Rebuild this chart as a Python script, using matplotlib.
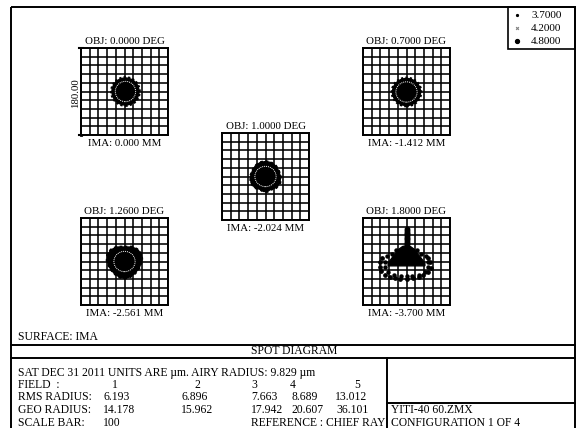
import matplotlib.pyplot as plt
import numpy as np
from matplotlib.patches import Ellipse, Polygon, Rectangle

W, H = 579, 428

fields = ['0.0000', '0.7000', '1.0000', '1.2600', '1.8000']
ima = ['0.000', '-1.412', '-2.024', '-2.561', '-3.700']
rms = ['6.193', '6.896', '7.663', '8.689', '13.012']
geo = ['14.178', '15.962', '17.942', '20.607', '36.101']
wavelengths = ['3.7000', '4.2000', '4.8000']
scale_bar = '180.00'

# spot shapes, in um (box spans +-90)
spot1_center, spot1_size = (2, 0), (56, 56)
spot2_center, spot2_size = (0, -1), (58, 56)
spot3_x = [0, 11, 21, 27, 31, 30, 22, 10, 4, -4, -10, -22, -30, -31, -27, -21, -11]
spot3_y = [31, 29, 22, 12, 0, -13, -23, -27, -31, -31, -27, -23, -13, 0, 12, 22, 29]
spot4_x = [0, 16, 28, 35, 36, 31, 22, 11, 0, -11, -22, -31, -36, -35, -28, -16]
spot4_y = [30, 30, 24, 14, 2, -12, -24, -32, -35, -32, -24, -12, 2, 14, 24, 30]
spot5_dome_x = [0, 8, 15, 21, 28, 34, 38, 38, -38, -38, -34, -28, -21, -15, -8]
spot5_dome_y = [33, 31, 26, 18, 10, 2, -4, -9, -9, -4, 2, 10, 18, 26, 31]
spot5_col_y = [67, 63, 60, 56, 53, 49, 46, 42, 39, 36]
spot5_ring_x = [-50, -54, -55, -52, -45, -35, -24, -14, 0, 13, 25, 35, 44, 50, 48, 44]
spot5_ring_y = [7, -1, -11, -20, -27, -32, -35, -37, -37, -35, -32, -27, -21, -13, -1, 7]
spot5_inner_x = [-40, -44, -44, -38, -26, -12, 0, 12, 26, 38, 44, 44, 40, -30, 30, -22, 22]
spot5_inner_y = [12, 0, -12, -22, -27, -29, -30, -29, -27, -22, -12, 0, 12, 16, 16, 24, 24]

serif = 'Liberation Serif'

fig = plt.figure(figsize=(W / 100, H / 100), dpi=100)
fax = fig.add_axes([0, 0, 1, 1])
fax.set_xlim(0, W)
fax.set_ylim(H, 0)
fax.axis('off')

# frame
fax.add_patch(Rectangle((11, 7), 564, 440, fill=False, lw=1.4, color='black'))
fax.plot([11, 575], [345, 345], color='black', lw=1.4)
fax.plot([11, 575], [358, 358], color='black', lw=1.4)
fax.plot([387, 387], [358, 430], color='black', lw=1.4)
fax.plot([387, 575], [403, 403], color='black', lw=1.4)
fax.add_patch(Rectangle((508, 7), 67, 42, fill=False, lw=1.2, color='black'))

# legend
leg_marks = [('.', 3, 'black'), ('x', 2, 'gray'), ('o', 3, 'black')]
for i, (wl, (m, ms, c)) in enumerate(zip(wavelengths, leg_marks)):
    y = 15 + i * 13
    fax.plot([517], [y], marker=m, ms=ms, color=c, mew=0.8)
    fax.text(531, y, wl, fontsize=8, family=serif, va='center')

boxes = [(81, 48), (363, 48), (222, 133), (81, 218), (363, 218)]
size = 87
ticks = np.arange(-90, 91, 18)


def spot_axes(left, top):
    ax = fig.add_axes([left / W, 1 - (top + size) / H, size / W, size / H])
    ax.set_xlim(-90, 90)
    ax.set_ylim(-90, 90)
    ax.set_xticks(ticks)
    ax.set_yticks(ticks)
    ax.grid(True, color='black', lw=1.15)
    ax.tick_params(length=0, labelbottom=False, labelleft=False)
    for s in ax.spines.values():
        s.set_linewidth(1.4)
    return ax


axes = []
for (left, top), f, im in zip(boxes, fields, ima):
    ax = spot_axes(left, top)
    axes.append(ax)
    fax.text(left + size / 2, top - 7, 'OBJ: %s DEG' % f, fontsize=7.8, family=serif,
             ha='center', va='center')
    fax.text(left + size / 2, top + size + 8, 'IMA: %s MM' % im, fontsize=7.8, family=serif,
             ha='center', va='center')

dotted = (0, (1, 1))


def round_spot(ax, center, sz):
    ax.add_patch(Ellipse(center, sz[0], sz[1], color='black', zorder=3))
    ax.add_patch(Ellipse(center, sz[0] + 3, sz[1] + 3, fill=False, ec='black', lw=1.6,
                         ls=dotted, zorder=3))
    ax.add_patch(Ellipse(center, sz[0] - 14, sz[1] - 14, fill=False, ec='white', lw=0.7,
                         ls=dotted, zorder=4))


def poly_spot(ax, xs, ys):
    pts = np.column_stack([xs, ys])
    ax.add_patch(Polygon(pts, closed=True, color='black', zorder=3))
    ax.add_patch(Polygon(pts, closed=True, fill=False, ec='black', lw=2, ls=dotted, zorder=3))
    ax.add_patch(Ellipse((0, 0), 44, 42, fill=False, ec='white', lw=0.7, ls=dotted, zorder=4))


round_spot(axes[0], spot1_center, spot1_size)
round_spot(axes[1], spot2_center, spot2_size)
poly_spot(axes[2], spot3_x, spot3_y)
poly_spot(axes[3], spot4_x, spot4_y)

ax5 = axes[4]
ax5.add_patch(Polygon(np.column_stack([spot5_dome_x, spot5_dome_y]), closed=True,
                      color='black', zorder=3))
ax5.plot(np.zeros(len(spot5_col_y)), spot5_col_y, 'o', color='black', ms=3.2, zorder=3)
ax5.plot(spot5_ring_x, spot5_ring_y, 'o', color='black', ms=2.4, zorder=3)
ax5.plot(spot5_inner_x, spot5_inner_y, 'o', color='black', ms=2.2, zorder=3)

# scale bar on the first box
l0, t0 = boxes[0]
fax.plot([l0, l0], [t0, t0 + size], color='black', lw=2)
fax.plot([l0 - 2, l0 + 2], [t0, t0], color='black', lw=1.5)
fax.plot([l0 - 2, l0 + 2], [t0 + size, t0 + size], color='black', lw=1.5)
fax.text(l0 - 5, t0 + size / 2 + 2, scale_bar, rotation=90, fontsize=7.8, family=serif,
         ha='center', va='center')

# text block
fs = 8.4
fax.text(18, 337, 'SURFACE: IMA', fontsize=fs, family=serif, va='center')
fax.text(294, 351.5, 'SPOT DIAGRAM', fontsize=fs, family=serif, va='center', ha='center')
fax.text(18, 373, 'SAT DEC 31 2011 UNITS ARE µm. AIRY RADIUS: 9.829 µm', fontsize=fs,
         family=serif, va='center')
field_x = [115, 197, 254, 293, 357]
rms_x = [103, 181, 251, 292, 335]
geo_x = [103, 181, 251, 291, 336]
fax.text(18, 385, 'FIELD  :', fontsize=fs, family=serif, va='center')
fax.text(18, 397, 'RMS RADIUS:', fontsize=fs, family=serif, va='center')
fax.text(18, 410, 'GEO RADIUS:', fontsize=fs, family=serif, va='center')
fax.text(18, 423, 'SCALE BAR:', fontsize=fs, family=serif, va='center')
for i in range(5):
    fax.text(field_x[i], 385, str(i + 1), fontsize=fs, family=serif, va='center', ha='center')
    fax.text(rms_x[i], 397, rms[i], fontsize=fs, family=serif, va='center')
    fax.text(geo_x[i], 410, geo[i], fontsize=fs, family=serif, va='center')
fax.text(103, 423, '100', fontsize=fs, family=serif, va='center')
fax.text(251, 423, 'REFERENCE : CHIEF RAY', fontsize=fs, family=serif, va='center')
fax.text(391, 410, 'YITI-40 60.ZMX', fontsize=fs, family=serif, va='center')
fax.text(391, 423, 'CONFIGURATION 1 OF 4', fontsize=fs, family=serif, va='center')

fig.savefig('out.png', dpi=100)
